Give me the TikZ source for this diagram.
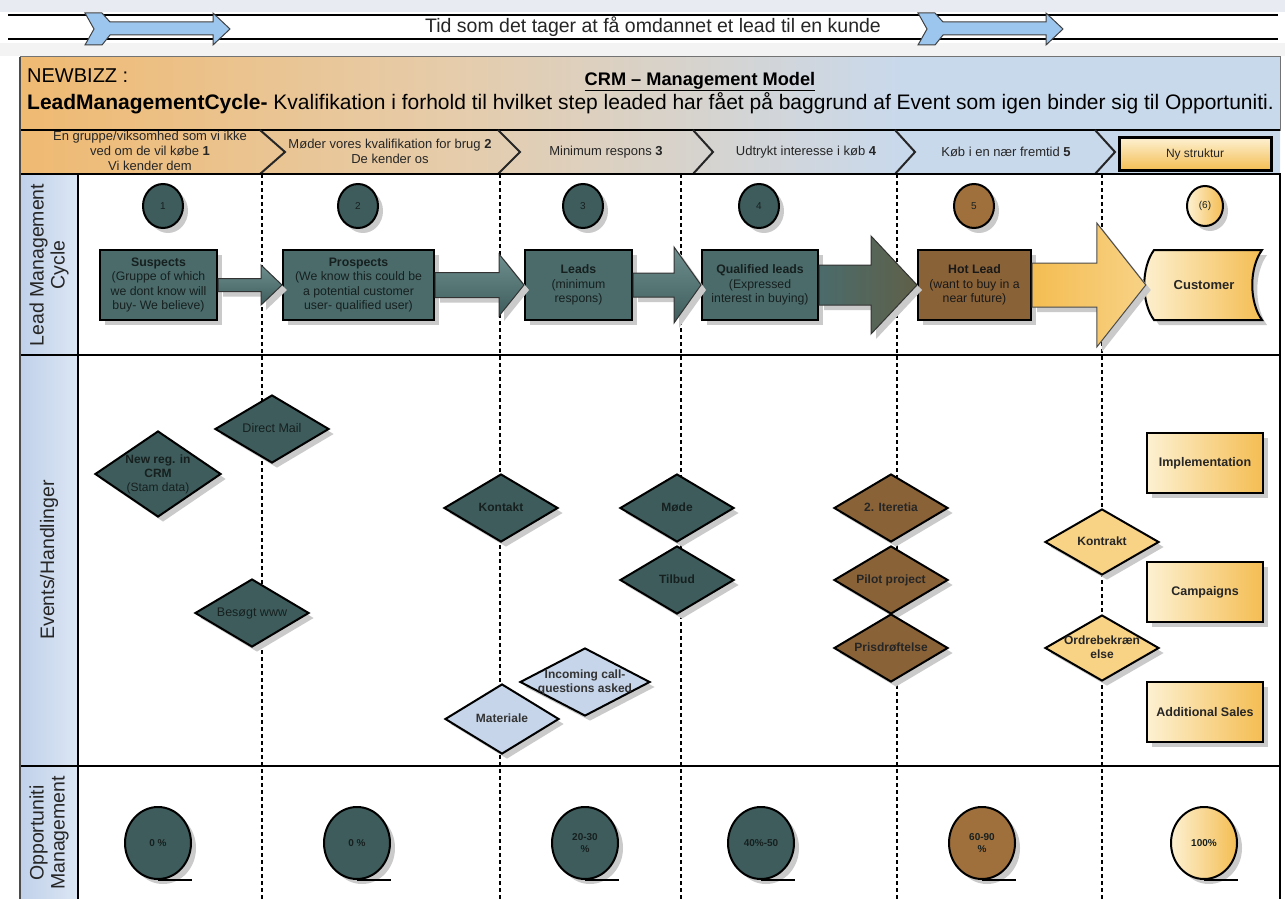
\documentclass[tikz,border=0pt]{standalone}
\usepackage{fontspec}
\setmainfont{Liberation Sans}
\usetikzlibrary{shapes.geometric,shadows,calc}
\definecolor{cTeal}{HTML}{3E5C5C}
\definecolor{cTealBox}{HTML}{4B6B6B}
\definecolor{cTealL}{HTML}{6E8E8E}
\definecolor{cTxt}{HTML}{16201F}
\definecolor{cBrown}{HTML}{8A6237}
\definecolor{cBrownC}{HTML}{A0703C}
\definecolor{cOlive}{HTML}{5F6048}
\definecolor{cYelL}{HTML}{FDF1D2}
\definecolor{cYelD}{HTML}{F4BD52}
\definecolor{cLB}{HTML}{C6D5EA}
\definecolor{cLane}{HTML}{C0D1EA}
\definecolor{cLaneL}{HTML}{DCE6F4}
\definecolor{cOr}{HTML}{F4A12E}
\definecolor{cHead}{HTML}{C9D9EC}
\definecolor{cHa}{HTML}{F3B25A}
\definecolor{cHb}{HTML}{E6CCAA}
\definecolor{cArr}{HTML}{9DC6EE}
\definecolor{cShadow}{HTML}{CACACA}
\definecolor{cTop}{HTML}{E8ECF2}
\definecolor{cBand}{HTML}{F3F3F4}
\pgfdeclarehorizontalshading{hdr}{100bp}{color(0bp)=(cOr); color(18bp)=(cHa); color(42bp)=(cHb); color(60bp)=(cHead); color(100bp)=(cHead)}
\newcommand{\fs}[2]{\fontsize{#1}{#2}\selectfont}
\newcommand{\dtxt}[1]{\smash{\raisebox{-.3em}{\makebox[0pt]{\begin{tabular}{@{}c@{}}#1\end{tabular}}}}}
\newcommand{\blockarr}[6]{%
  \path[#6] ($(#1.east)+(0,-#3)$) -- ($(#2.west)+(-#5,-#3)$) -- ($(#2.west)+(-#5,-#4)$) -- (#2.west)
    -- ($(#2.west)+(-#5,#4)$) -- ($(#2.west)+(-#5,#3)$) -- ($(#1.east)+(0,#3)$) -- cycle;}
\tikzset{
  shad/.style={drop shadow={shadow xshift=5pt,shadow yshift=-5pt,fill=cShadow,opacity=1}},
  bline/.style={line width=2.5pt,black},
  barr/.style={fill=cArr,draw=black!75,line width=1pt},
  chev/.style={line width=2pt,black!85},
  laneline/.style={line width=2.5pt,black},
  dline/.style={line width=2.5pt,black,dash pattern=on 4pt off 3pt},
  lanelab/.style={rotate=90,align=center,font=\fs{19.5}{21},text=black!85},
  phtxt/.style={align=center,font=\fs{13}{15},text=black!85},
  numc/.style={ellipse,draw=black,line width=2pt,minimum width=40pt,minimum height=44pt,inner sep=0pt,font=\fs{10}{12},text=cTxt,shad},
  lbox/.style={rectangle,draw=black,line width=2pt,fill=cTealBox,text=cTxt,align=center,inner sep=0pt,minimum height=70pt,font=\fs{12.3}{14.5},shad},
  tdia/.style={diamond,draw=black,line width=2pt,fill=cTeal,text=cTxt,inner sep=0pt,minimum width=114pt,minimum height=68pt,font=\bfseries\fs{12}{14},shad},
  ldia/.style={tdia,fill=cLB,text=black!80},
  bdia/.style={tdia,fill=cBrown,text=black!85},
  ydia/.style={tdia,fill=cYelL!40!cYelD,text=black!85},
  ybox/.style={rectangle,draw=black,line width=2pt,left color=cYelL,right color=cYelD,text=black!85,inner sep=0pt,minimum width=116pt,minimum height=60pt,font=\bfseries\fs{12.5}{15},shad},
  oc/.style={ellipse,draw=black,line width=2pt,minimum width=66pt,minimum height=72pt,inner sep=0pt,align=center,font=\bfseries\fs{10}{12},text=cTxt,shad},
  otail/.style={line width=2pt,black},
  tarr/.style={top color=cTealL,bottom color=cTeal,draw=black!80,line width=1pt,shad},
}
\begin{document}
\begin{tikzpicture}[x=1pt,y=-1pt]
\useasboundingbox (0,0) rectangle (1285,899);
\fill[white] (0,0) rectangle (1285,899);
\fill[cTop] (0,0) rectangle (1285,12);
\fill[cBand] (0,43) rectangle (1285,56);
% ---- banner
\draw[bline] (8,15) -- (1278,15);
\draw[bline] (8,39) -- (1278,39);
\path[barr] (85,13) -- (102,13) -- (110,22) -- (213,22) -- (213,13) -- (230,29) -- (213,45) -- (213,35) -- (110,35) -- (102,45) -- (85,45) -- (94,29) -- cycle;
\path[barr,xshift=833pt] (85,13) -- (102,13) -- (110,22) -- (213,22) -- (213,13) -- (230,29) -- (213,45) -- (213,35) -- (110,35) -- (102,45) -- (85,45) -- (94,29) -- cycle;
\node[anchor=base west,font=\fs{19.5}{22},inner sep=0pt,text=black!85] (ttl) at (425,33) {Tid som det tager at få omdannet et lead til en kunde};
% ---- header
\shade[shading=hdr] (20,57) rectangle (1280,130);
\draw[black!55,line width=1pt] (20,57) rectangle (1280,130);
\node[anchor=base west,font=\fs{20}{22},inner sep=0pt] (nb) at (27,82) {NEWBIZZ :};
\node[anchor=base,font=\bfseries\fs{18.2}{21},inner sep=0pt] (crm) at (700,85) {\underline{CRM – Management Model}};
\node[anchor=base west,font=\fs{21}{24},inner sep=0pt] (lmc) at (27,110) {\textbf{LeadManagementCycle-} Kvalifikation i forhold til hvilket step leaded har fået på baggrund af Event som igen binder sig til Opportuniti.};
% ---- phase row
\shade[shading=hdr] (20,130) rectangle (1280,174);
\draw[line width=2pt] (20,130) -- (1280,130);
\foreach \a/\b in {260/285,498/520,693/713,895/915,1095/1115}
  \draw[chev] (\a,130) -- (\b,152) -- (\a,174);
\node[phtxt] (p1) at (150,151) {En gruppe/viksomhed som vi ikke\\ved om de vil købe \textbf{1}\\Vi kender dem};
\node[phtxt] (p2) at (390,151) {Møder vores kvalifikation for brug \textbf{2}\\De kender os};
\node[phtxt] (p3) at (606,152) {Minimum respons \textbf{3}};
\node[phtxt] (p4) at (806,152) {Udtrykt interesse i køb \textbf{4}};
\node[phtxt] (p5) at (1006,152) {Køb i en nær fremtid \textbf{5}};
\node[draw=black,line width=3pt,top color=cYelL,bottom color=cYelD,minimum width=152pt,minimum height=33pt,inner sep=0pt,font=\fs{12}{14},text=black!85] (nys) at (1195,154) {Ny struktur};
% ---- lanes
\shade[left color=cLane,right color=cLaneL] (20,174) rectangle (78,899);
\foreach \x in {262,500,681,897,1102}
  \draw[dline] (\x,174) -- (\x,899);
\draw[laneline] (20,174) -- (1281,174);
\draw[laneline] (20,355) -- (1281,355);
\draw[laneline] (20,766) -- (1281,766);
\draw[line width=2pt] (78,174) -- (78,899);
\draw[line width=2pt] (1280,174) -- (1280,899);
\draw[line width=1.5pt,black!70] (20,57) -- (20,899);
\node[lanelab] (l1) at (49,265) {Lead Management\\Cycle};
\node[lanelab] (l2) at (49,560) {Events/Handlinger};
\node[lanelab] (l3) at (49,833) {Opportuniti\\Management};
% ---- lane 1
\node[numc,fill=cTeal] (c1) at (163,206) {1};
\node[numc,fill=cTeal] (c2) at (358,206) {2};
\node[numc,fill=cTeal] (c3) at (583,206) {3};
\node[numc,fill=cTeal] (c4) at (759,206) {4};
\node[numc,fill=cBrownC] (c5) at (974,206) {5};
\node[numc,left color=cYelL,right color=cYelD,minimum width=36pt,minimum height=40pt] (c6) at (1205,206) {(6)};
\node[lbox,minimum width=117pt] (sus) at (158.5,285) {\textbf{Suspects}\\(Gruppe of which\\we dont know will\\buy- We believe)};
\node[lbox,minimum width=151pt] (pro) at (358.5,285) {\textbf{Prospects}\\(We know this could be\\a potential customer\\user- qualified user)};
\node[lbox,minimum width=107pt] (lea) at (578.5,285) {\textbf{Leads}\\(minimum\\respons)};
\node[lbox,minimum width=116pt] (qua) at (760,285) {\textbf{Qualified leads}\\(Expressed\\interest in buying)};
\node[lbox,minimum width=113pt,fill=cBrown,text=black!90] (hot) at (974.5,285) {\textbf{Hot Lead}\\(want to buy in a\\near future)};
\path[draw=black,line width=2pt,left color=cYelL,right color=cYelD,shad] (1154,250) -- (1262,250) .. controls (1249,268) and (1249,302) .. (1262,320) -- (1154,320) .. controls (1141,302) and (1141,268) .. (1154,250) -- cycle;
\node[inner sep=0pt,minimum width=116pt,minimum height=70pt,font=\bfseries\fs{13}{15},text=black!85] (cus) at (1204,285) {Customer};
\blockarr{sus}{pro}{6.5}{20}{21}{tarr}
\blockarr{pro}{lea}{12.5}{31}{25}{tarr}
\blockarr{lea}{qua}{12}{38}{27}{tarr}
\blockarr{qua}{hot}{20}{49}{46}{left color=cTealBox,right color=cOlive,draw=black!80,line width=1pt,shad}
\blockarr{hot}{cus}{22}{62}{49}{left color=cYelD,right color=cYelL!40!cYelD,draw=black!70,line width=1pt,shad}
% ---- lane 2
\node[tdia,minimum width=126pt,minimum height=86pt] (nrc) at (158,474) {\dtxt{New reg. in\\CRM\\\mdseries(Stam data)}};
\node[tdia,font=\fs{12.5}{14}] (dm) at (272,429) {\dtxt{Direct Mail}};
\node[tdia,font=\fs{12.5}{14}] (www) at (252,613) {\dtxt{Besøgt www}};
\node[tdia] (kon) at (501,508) {\dtxt{Kontakt}};
\node[tdia] (mod) at (677,508) {\dtxt{Møde}};
\node[tdia] (til) at (677,580) {\dtxt{Tilbud}};
\node[ldia,minimum width=130pt] (inc) at (585,682) {\dtxt{Incoming call-\\questions asked}};
\node[ldia,minimum height=70pt] (mat) at (502,719) {\dtxt{Materiale}};
\node[bdia] (ite) at (891,508) {\dtxt{2. Iteretia}};
\node[bdia] (pil) at (891,580) {\dtxt{Pilot project}};
\node[bdia] (pri) at (891,648) {\dtxt{Prisdrøftelse}};
\node[ydia,minimum height=66pt] (ktr) at (1102,542) {\dtxt{Kontrakt}};
\node[ydia,minimum height=66pt] (ord) at (1102,648) {\dtxt{Ordrebekræn\\else}};
\node[ybox] (imp) at (1205,463) {Implementation};
\node[ybox] (cam) at (1205,592) {Campaigns};
\node[ybox] (add) at (1205,712) {Additional Sales};
% ---- lane 3
\node[oc,fill=cTeal] (o1) at (158,843) {0 \%};
\node[oc,fill=cTeal] (o2) at (357,843) {0 \%};
\node[oc,fill=cTeal] (o3) at (585,843) {20-30\\\%};
\node[oc,fill=cTeal] (o4) at (761,843) {40\%-50};
\node[oc,fill=cBrownC] (o5) at (982,843) {60-90\\\%};
\node[oc,left color=cYelL,right color=cYelD] (o6) at (1204,843) {100\%};
\foreach \n in {o1,o2,o3,o4,o5,o6}
  \draw[otail] (\n.south) -- ++(34,0);
\end{tikzpicture}
\end{document}
